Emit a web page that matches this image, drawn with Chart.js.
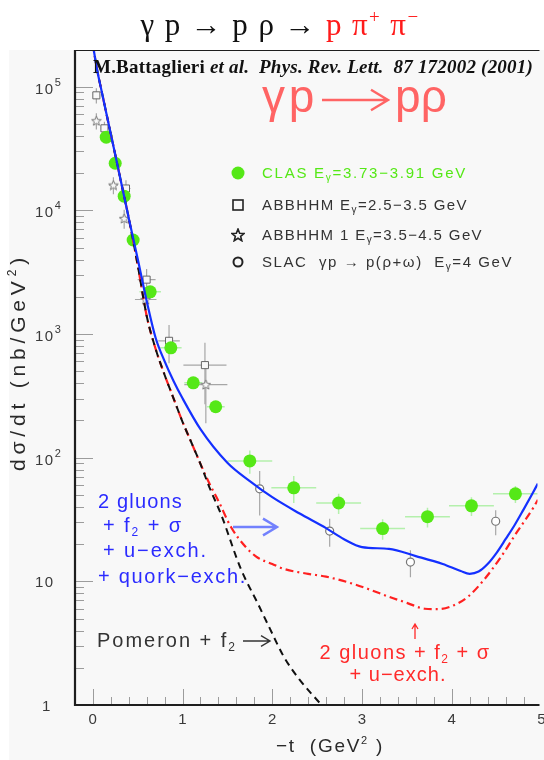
<!DOCTYPE html>
<html lang="en">
<head>
<meta charset="UTF-8">
<title>gamma p -> p rho</title>
<script src="https://cdn.jsdelivr.net/npm/chart.js"></script>
<style>
  html, body { margin: 0; padding: 0; background: #fff; }
  #wrap { width: 544px; height: 760px; }
</style>
</head>
<body>
<div id="wrap"><canvas id="c" width="544" height="760"></canvas></div>
<script>
// -t in GeV^2, dsigma/dt in nb/GeV^2
var clasT  = [0.15, 0.25, 0.35, 0.45, 0.64, 0.87, 1.12, 1.37, 1.75, 2.24, 2.74, 3.23, 3.73, 4.22, 4.71];
var clasY  = [39000, 24000, 13000, 5750, 2190, 773, 403, 258, 94, 57, 43, 26.7, 33.3, 40.8, 51];
var clasDT = [0.05, 0.05, 0.05, 0.05, 0.12, 0.12, 0.1, 0.1, 0.25, 0.25, 0.25, 0.25, 0.25, 0.25, 0.25];
var clasDY = [2000, 1300, 700, 350, 150, 50, 30, 20, 20, 14, 8, 5, 6, 7, 8];

var abT  = [0.04, 0.13, 0.37, 0.6, 0.85, 1.25];
var abY  = [85000, 46000, 15000, 2750, 880, 560];
var abDT = [0.03, 0.03, 0.05, 0.1, 0.12, 0.24];
var abDY = [12000, 6000, 2500, 600, 300, 290];

var ab1T  = [0.04, 0.23, 0.35, 0.59, 1.26];
var ab1Y  = [53000, 16000, 8600, 1900, 390];
var ab1DT = [0.03, 0.05, 0.05, 0.12, 0.24];
var ab1DY = [8000, 2500, 1500, 500, 200];

var slacT  = [1.86, 2.64, 3.54, 4.49];
var slacY  = [56, 25.5, 14.3, 30.6];
var slacDY = [22, 6.5, 3.5, 7];

// model curves
var blueT = [0, 0.05, 0.1, 0.2, 0.3, 0.4, 0.5, 0.6, 0.7, 0.8, 0.9, 1.0, 1.2, 1.5, 1.75, 2.0, 2.3, 2.6, 2.8, 3.0, 3.3, 3.6, 3.9, 4.1, 4.2, 4.3, 4.4, 4.5, 4.6, 4.7, 4.8, 4.9, 4.96];
var blueY = [220000, 135000, 91000, 41700, 19100, 8700, 4070, 1860, 933, 603, 417, 302, 170, 91, 64.6, 47.9, 35.5, 26.9, 21.9, 18.9, 18.3, 16, 13.8, 12.1, 11.5, 12.0, 13.8, 17, 21.9, 28.4, 38, 51.3, 61.7];

var redT = [0, 0.05, 0.1, 0.2, 0.3, 0.4, 0.5, 0.6, 0.7, 0.8, 0.9, 1.0, 1.1, 1.2, 1.3, 1.4, 1.54, 1.7, 1.84, 2.0, 2.13, 2.4, 2.6, 2.93, 3.1, 3.3, 3.5, 3.7, 3.85, 4.0, 4.18, 4.36, 4.55, 4.73, 4.91, 4.96];
var redY = [220000, 135000, 91000, 41700, 19100, 8710, 3630, 1410, 759, 468, 302, 195, 132, 89, 61.7, 44.7, 27.5, 19.1, 15.5, 13.8, 12.6, 11.5, 10.9, 9.4, 8.5, 7.5, 6.7, 6.0, 5.96, 6.3, 7.5, 10.3, 15.8, 25.2, 39.4, 45.7];

var pomT = [0, 0.05, 0.1, 0.2, 0.3, 0.4, 0.5, 0.6, 0.7, 0.8, 0.9, 1.0, 1.1, 1.2, 1.3, 1.43, 1.65, 1.84, 1.97, 2.13, 2.3, 2.55, 2.7];
var pomY = [220000, 135000, 91000, 41700, 19100, 8710, 3630, 1410, 759, 468, 302, 195, 132, 89, 57.5, 34.7, 12.6, 6.6, 4.2, 2.45, 1.62, 1.0, 0.76];

var xTicks = [0, 1, 2, 3, 4, 5];
var yDecades = [0, 1, 2, 3, 4, 5];

var X_MIN = -0.198, X_MAX = 4.956;
var Y_MIN = 1, Y_MAX = 197700;

function pts(xs, ys) {
  return xs.map(function (x, i) { return { x: x, y: ys[i] }; });
}

function makeStar(size, color, fill, lw) {
  var c = document.createElement('canvas');
  c.width = size; c.height = size;
  var g = c.getContext('2d');
  var cx = size / 2, cy = size / 2 + 0.5;
  g.beginPath();
  for (var i = 0; i < 10; i++) {
    var r = (i % 2) ? size * 0.2 : size * 0.46;
    var a = -Math.PI / 2 + i * Math.PI / 5;
    var px = cx + r * Math.cos(a), py = cy + r * Math.sin(a);
    if (i === 0) g.moveTo(px, py); else g.lineTo(px, py);
  }
  g.closePath();
  g.fillStyle = fill; g.fill();
  g.strokeStyle = color; g.lineWidth = lw; g.stroke();
  return c;
}

var starImg = makeStar(11, '#777', '#f8f8f8', 1);
var starLegend = makeStar(14, '#222', '#f8f8f8', 1.6);

// draw a run of text pieces: [text, font, color, dy]
// if target is given the letter spacing is stretched so the run is that wide
function rich(ctx, x, y, parts, align, spacing, target) {
  var w = 0, n = 0;
  ctx.letterSpacing = '0px';
  parts.forEach(function (p) { ctx.font = p[1]; w += ctx.measureText(p[0]).width; n += p[0].length; });
  var sp = spacing || 0;
  if (target) sp = (target - w) / n;
  ctx.letterSpacing = sp + 'px';
  var total = w + sp * n;
  var cx = align === 'center' ? x - total / 2 : x;
  parts.forEach(function (p) {
    ctx.font = p[1];
    ctx.fillStyle = p[2];
    ctx.fillText(p[0], cx, y + (p[3] || 0));
    cx += ctx.measureText(p[0]).width;
  });
  ctx.letterSpacing = '0px';
}

function errBars(ctx, xs, ys, xsc, ysc, dx, dy, color, lw) {
  ctx.strokeStyle = color;
  ctx.lineWidth = lw;
  for (var i = 0; i < xs.length; i++) {
    var px = xsc.getPixelForValue(xs[i]), py = ysc.getPixelForValue(ys[i]);
    ctx.beginPath();
    if (dx && dx[i]) {
      ctx.moveTo(xsc.getPixelForValue(xs[i] - dx[i]), py);
      ctx.lineTo(xsc.getPixelForValue(xs[i] + dx[i]), py);
    }
    if (dy && dy[i]) {
      ctx.moveTo(px, ysc.getPixelForValue(ys[i] + dy[i]));
      ctx.lineTo(px, ysc.getPixelForValue(Math.max(ys[i] - dy[i], 0.5)));
    }
    ctx.stroke();
  }
}

function arrowH(ctx, x1, x2, y, head, color, lw) {
  ctx.strokeStyle = color; ctx.lineWidth = lw;
  ctx.beginPath();
  ctx.moveTo(x1, y); ctx.lineTo(x2, y);
  ctx.moveTo(x2 - head, y - head * 0.6); ctx.lineTo(x2, y); ctx.lineTo(x2 - head, y + head * 0.6);
  ctx.stroke();
}

var SANS = '"Liberation Sans", Arial, sans-serif';
var SERIF = '"Liberation Serif", "Times New Roman", serif';

var figPlugin = {
  id: 'fig',
  beforeDraw: function (chart) {
    var ctx = chart.ctx;
    ctx.save();
    ctx.fillStyle = '#ffffff';
    ctx.fillRect(0, 0, chart.width, chart.height);
    ctx.fillStyle = '#f8f8f8';
    ctx.fillRect(9, chart.chartArea.top, chart.width - 9, chart.height - chart.chartArea.top);
    ctx.restore();
  },
  beforeDatasetsDraw: function (chart) {
    var ctx = chart.ctx, a = chart.chartArea;
    var xs = chart.scales.x, ys = chart.scales.y;
    ctx.save();
    // y ticks (inside)
    ctx.strokeStyle = '#9c9c9c';
    ctx.lineWidth = 1;
    yDecades.forEach(function (d) {
      for (var m = 1; m <= 9; m++) {
        var v = m * Math.pow(10, d);
        if (v > Y_MAX) break;
        var py = Math.round(ys.getPixelForValue(v)) + 0.5;
        if (m === 1 && d === 0) continue;
        var len = (m === 1) ? 18 : 9;
        ctx.beginPath(); ctx.moveTo(a.left, py); ctx.lineTo(a.left + len, py); ctx.stroke();
      }
    });
    // x ticks (inside)
    for (var k = 1; k <= 25; k++) {
      var t = k * 0.2;
      var px = Math.round(xs.getPixelForValue(t)) + 0.5;
      if (px > a.right) break;
      var major = (k % 5 === 0);
      var L = major ? 16 : 8;
      ctx.beginPath(); ctx.moveTo(px, a.bottom); ctx.lineTo(px, a.bottom - L); ctx.stroke();
    }
    var p0 = Math.round(xs.getPixelForValue(0)) + 0.5;
    ctx.beginPath(); ctx.moveTo(p0, a.bottom); ctx.lineTo(p0, a.bottom - 16); ctx.stroke();

    // error bars
    ctx.save();
    ctx.beginPath(); ctx.rect(a.left, a.top, a.right - a.left, a.bottom - a.top); ctx.clip();
    errBars(ctx, abT, abY, xs, ys, abDT, abDY, '#a6a6a6', 1.2);
    errBars(ctx, ab1T, ab1Y, xs, ys, ab1DT, ab1DY, '#a6a6a6', 1.2);
    errBars(ctx, slacT, slacY, xs, ys, null, slacDY, '#a6a6a6', 1.2);
    errBars(ctx, clasT, clasY, xs, ys, clasDT, clasDY, '#b4f0ac', 1.5);
    ctx.restore();
    ctx.restore();
  },
  afterDraw: function (chart) {
    var ctx = chart.ctx, a = chart.chartArea;
    var xs = chart.scales.x, ys = chart.scales.y;
    ctx.save();
    // frame
    ctx.strokeStyle = '#1e1e1e';
    ctx.lineWidth = 2.2;
    ctx.beginPath();
    ctx.moveTo(a.left, a.top); ctx.lineTo(a.left, a.bottom); ctx.lineTo(a.right + 2, a.bottom);
    ctx.stroke();
    ctx.lineWidth = 1.2;
    ctx.beginPath(); ctx.moveTo(a.left, a.top + 0.5); ctx.lineTo(a.right + 2, a.top + 0.5); ctx.stroke();

    ctx.textBaseline = 'alphabetic';
    // y tick labels
    var tc = '#3a3a3a';
    yDecades.forEach(function (d) {
      var py = ys.getPixelForValue(Math.pow(10, d));
      if (d === 0) {
        rich(ctx, 42, py + 6, [['1', '15px ' + SANS, tc]], 'left');
      } else if (d === 1) {
        rich(ctx, 35, py + 6, [['10', '15px ' + SANS, tc]], 'left', 1.5);
      } else {
        rich(ctx, 35, py + 7, [['10', '15px ' + SANS, tc], [String(d), '11px ' + SANS, tc, -8]], 'left', 1.5);
      }
    });
    // x tick labels
    xTicks.forEach(function (t) {
      var px = xs.getPixelForValue(t);
      rich(ctx, px, 724, [[String(t), '15px ' + SANS, tc]], 'center');
    });

    // axis titles
    var at = '#2a2a2a';
    rich(ctx, 330, 752, [['\u2212t  (GeV', '19px ' + SANS, at], ['2', '11px ' + SANS, at, -8], [' )', '19px ' + SANS, at]], 'center', 0, 108);
    ctx.save();
    ctx.translate(25, 362);
    ctx.rotate(-Math.PI / 2);
    rich(ctx, 0, 0, [['d\u03c3/dt (nb/GeV', '21px ' + SANS, at], ['2', '12px ' + SANS, at, -9], [')', '21px ' + SANS, at]], 'center', 0, 218);
    ctx.restore();

    // title
    var tf = '31px ' + SERIF, tfs = '19px ' + SERIF;
    rich(ctx, 280, 35, [
      ['\u03b3 p \u2192 p \u03c1 \u2192 ', tf, '#111'],
      ['p \u03c0', tf, '#ff1a1a'], ['+', tfs, '#ff1a1a', -12], [' \u03c0', tf, '#ff1a1a'], ['\u2212', tfs, '#ff1a1a', -12]
    ], 'center', 0, 279);

    // reference line
    var bf = 'bold 19px ' + SERIF, bi = 'italic bold 19px ' + SERIF;
    rich(ctx, 93, 73, [
      ['M.Battaglieri ', bf, '#111'], ['et al.', bi, '#111'],
      ['  Phys. Rev. Lett.', bi, '#111'], ['  87 172002 (2001)', bi, '#111']
    ], 'left', 0, 440);

    // big reaction label
    var rf = '46px ' + SANS, rc = '#ff6464';
    rich(ctx, 262, 112, [['\u03b3p', rf, rc]], 'left', 0, 56);
    arrowH(ctx, 322, 388, 100, 17, rc, 2.4);
    rich(ctx, 395, 112, [['p\u03c1', rf, rc]], 'left', 0, 52);

    // legend
    var lf = '15px ' + SANS, lfs = '10px ' + SANS;
    ctx.fillStyle = '#55e817';
    ctx.beginPath(); ctx.arc(238, 173, 6.5, 0, Math.PI * 2); ctx.fill();
    rich(ctx, 262, 178, [['CLAS E', lf, '#55e817'], ['\u03b3', lfs, '#55e817', 3], ['=3.73\u22123.91 GeV', lf, '#55e817']], 'left', 0, 205);
    ctx.strokeStyle = '#222'; ctx.lineWidth = 1.6;
    ctx.strokeRect(233, 200, 10, 10);
    rich(ctx, 262, 210, [['ABBHHM E', lf, '#333'], ['\u03b3', lfs, '#333', 3], ['=2.5\u22123.5 GeV', lf, '#333']], 'left', 0, 206);
    ctx.drawImage(starLegend, 231, 228);
    rich(ctx, 262, 240, [['ABBHHM 1 E', lf, '#333'], ['\u03b3', lfs, '#333', 3], ['=3.5\u22124.5 GeV', lf, '#333']], 'left', 0, 221);
    ctx.lineWidth = 2;
    ctx.beginPath(); ctx.arc(238, 262, 4.5, 0, Math.PI * 2); ctx.stroke();
    rich(ctx, 262, 267, [['SLAC  \u03b3p \u2192 p(\u03c1+\u03c9)  E', lf, '#333'], ['\u03b3', lfs, '#333', 3], ['=4 GeV', lf, '#333']], 'left', 0, 251);

    // blue model label
    var af = '20px ' + SANS, afs = '12px ' + SANS, blue = '#2b2bff';
    rich(ctx, 98, 508, [['2 gluons', af, blue]], 'left', 0, 85);
    rich(ctx, 103, 532, [['+ f', af, blue], ['2', afs, blue, 4], [' + \u03c3', af, blue]], 'left', 0, 80);
    rich(ctx, 103, 557, [['+ u\u2212exch.', af, blue]], 'left', 0, 105);
    rich(ctx, 98, 583, [['+ quork\u2212exch.', af, blue]], 'left', 0, 149);
    arrowH(ctx, 233, 277, 527, 14, 'rgba(70,90,255,0.75)', 2.4);

    // pomeron label
    var dark = '#333';
    rich(ctx, 97, 647, [['Pomeron + f', af, dark], ['2', afs, dark, 4]], 'left', 0, 140);
    arrowH(ctx, 243, 270, 641, 9, dark, 1.4);

    // red model label
    var red = '#ff2a2a';
    ctx.strokeStyle = red; ctx.lineWidth = 1.3;
    ctx.beginPath(); ctx.moveTo(415, 639); ctx.lineTo(415, 625);
    ctx.moveTo(412, 629); ctx.lineTo(415, 624); ctx.lineTo(418, 629); ctx.stroke();
    rich(ctx, 405, 659, [['2 gluons + f', af, red], ['2', afs, red, 4], [' + \u03c3', af, red]], 'center', 0, 171);
    rich(ctx, 398, 681, [['+ u\u2212exch.', af, red]], 'center', 0, 97);

    ctx.restore();
  }
};

var lineDefaults = { showLine: true, pointRadius: 0, fill: false, cubicInterpolationMode: 'monotone' };

new Chart(document.getElementById('c'), {
  type: 'scatter',
  data: {
    datasets: [
      Object.assign({ label: '2 gluons + f2 + sigma + u-exch. + quark-exch.', data: pts(blueT, blueY),
        borderColor: '#1430ff', borderWidth: 2.2 }, lineDefaults),
      Object.assign({ label: 'Pomeron + f2', data: pts(pomT, pomY),
        borderColor: '#111111', borderWidth: 2, borderDash: [7, 5] }, lineDefaults),
      Object.assign({ label: '2 gluons + f2 + sigma + u-exch.', data: pts(redT, redY),
        borderColor: '#ff2020', borderWidth: 2.2, borderDash: [8, 4, 2, 4] }, lineDefaults),
      { label: 'CLAS', data: pts(clasT, clasY), pointStyle: 'circle', pointRadius: 6.5,
        backgroundColor: '#55e817', borderWidth: 0 },
      { label: 'ABBHHM', data: pts(abT, abY), pointStyle: 'rect', pointRadius: 5,
        backgroundColor: '#f8f8f8', borderColor: '#666', borderWidth: 1 },
      { label: 'ABBHHM 1', data: pts(ab1T, ab1Y), pointStyle: starImg, pointRadius: 5 },
      { label: 'SLAC', data: pts(slacT, slacY), pointStyle: 'circle', pointRadius: 4,
        backgroundColor: '#ffffff', borderColor: '#777', borderWidth: 1.2 }
    ]
  },
  options: {
    responsive: false,
    animation: false,
    devicePixelRatio: 1,
    layout: { padding: { top: 50, left: 0, right: 0, bottom: 0 } },
    plugins: { legend: { display: false }, tooltip: { enabled: false } },
    scales: {
      x: {
        type: 'linear', min: X_MIN, max: X_MAX,
        ticks: { display: false }, grid: { display: false }, border: { display: false },
        afterFit: function (s) { s.height = 55; }
      },
      y: {
        type: 'logarithmic', min: Y_MIN, max: Y_MAX,
        ticks: { display: false }, grid: { display: false }, border: { display: false },
        afterFit: function (s) { s.width = 75; }
      }
    }
  },
  plugins: [figPlugin]
});
</script>
</body>
</html>
